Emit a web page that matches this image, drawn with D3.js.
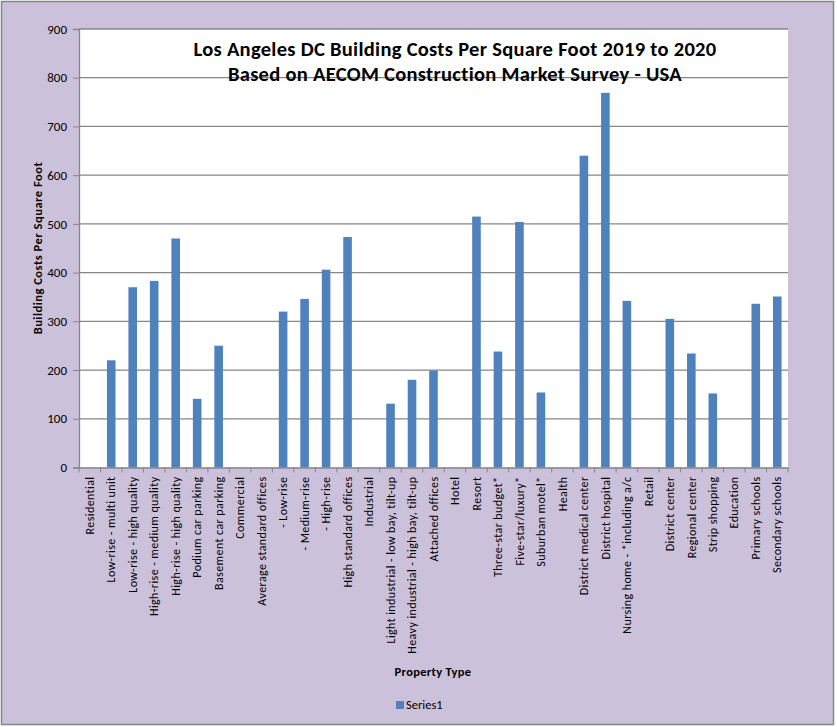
<!DOCTYPE html>
<html>
<head>
<meta charset="utf-8">
<script src="https://cdn.jsdelivr.net/npm/d3@7"></script>
<style>
  body { margin: 0; background: #fff; }
  svg text { font-family: Carlito, Lato, "Open Sans", sans-serif; fill: #000; }
</style>
</head>
<body>
<div id="chart"></div>
<script>
// categories along the x axis (empty headings have no value)
let categories = [
  'Residential', 'Low-rise - multi unit', 'Low-rise - high quality', 'High-rise - medium quality',
  'High-rise - high quality', 'Podium car parking', 'Basement car parking', 'Commercial',
  'Average standard offices', ' - Low-rise', ' - Medium-rise', ' - High-rise', 'High standard offices',
  'Industrial', 'Light industrial - low bay, tilt-up', 'Heavy industrial - high bay, tilt-up',
  'Attached offices', 'Hotel', 'Resort', 'Three-star budget*', 'Five-star/luxury*', 'Suburban motel*',
  'Health', 'District medical center', 'District hospital', 'Nursing home - *including a/c', 'Retail',
  'District center', 'Regional center', 'Strip shopping', 'Education', 'Primary schools', 'Secondary schools'
];

// cost per square foot
let series1 = [
  null, 220, 370, 383, 470, 141, 250, null,
  null, 320, 346, 406, 473,
  null, 131, 180,
  199, null, 515, 238, 504, 154,
  null, 640, 769, 342, null,
  305, 234, 152, null, 336, 351
];

let yTicks = [0, 100, 200, 300, 400, 500, 600, 700, 800, 900];

let svgWidth = 837;
let svgHeight = 727;

//plot area inside the lavender frame
let plot = { left: 79, top: 29, right: 788, bottom: 467.5 };

let svg = d3.select('#chart')
            .append('svg')
            .attr('width', svgWidth)
            .attr('height', svgHeight);

//outer chart frame
svg.append('rect')
   .attr('x', 1.5).attr('y', 1.5)
   .attr('width', 832).attr('height', 723)
   .attr('fill', '#ccc1da')
   .attr('stroke', '#868686')
   .attr('stroke-width', 1.5);

//white plot area
svg.append('rect')
   .attr('x', plot.left).attr('y', plot.top)
   .attr('width', plot.right - plot.left).attr('height', plot.bottom - plot.top)
   .attr('fill', '#fff');

let xScale = d3.scaleBand()
               .domain(categories)
               .range([plot.left, plot.right])
               .paddingInner(0.6)
               .paddingOuter(0.3);

let yScale = d3.scaleLinear()
               .domain([0, 900])
               .range([plot.bottom, plot.top]);

//gridlines
svg.append('g')
   .selectAll('line')
   .data(yTicks.slice(1))
   .enter()
   .append('line')
   .attr('x1', plot.left).attr('x2', plot.right)
   .attr('y1', d => yScale(d)).attr('y2', d => yScale(d))
   .attr('stroke', '#868686')
   .attr('stroke-width', 1.3);

//bars
svg.append('g')
   .selectAll('rect')
   .data(categories.map((c, i) => ({ cat: c, value: series1[i] })).filter(d => d.value != null))
   .enter()
   .append('rect')
   .attr('x', d => xScale(d.cat))
   .attr('y', d => yScale(d.value))
   .attr('width', xScale.bandwidth())
   .attr('height', d => plot.bottom - yScale(d.value))
   .attr('fill', '#4f81bd');

//y axis
let yAxis = d3.axisLeft(yScale).tickValues(yTicks).tickSize(6).tickPadding(6);
let yG = svg.append('g')
            .attr('transform', `translate(${plot.left},0)`)
            .call(yAxis);
yG.selectAll('text').style('font-size', '13px').attr('fill', '#000');

//x axis with ticks on band edges
let xAxisBand = d3.scaleBand().domain(categories).range([plot.left, plot.right]);
let xG = svg.append('g')
            .attr('transform', `translate(0,${plot.bottom})`)
            .call(d3.axisBottom(xAxisBand).tickSize(0).tickPadding(0));
xG.selectAll('.tick text')
  .attr('transform', 'rotate(-90)')
  .attr('text-anchor', 'end')
  .attr('x', -9)
  .attr('y', 0)
  .attr('dy', '0.35em')
  .style('font-size', '12px')
  .style('letter-spacing', '0.4px')
  .attr('fill', '#000');
xG.append('g')
  .selectAll('line')
  .data(d3.range(categories.length + 1))
  .enter()
  .append('line')
  .attr('x1', i => plot.left + i * xAxisBand.step())
  .attr('x2', i => plot.left + i * xAxisBand.step())
  .attr('y1', 0).attr('y2', 5)
  .attr('stroke', '#868686');

svg.selectAll('.domain').attr('stroke', '#868686').attr('stroke-width', 1.3);
svg.selectAll('.tick line').attr('stroke', '#868686');

//title
let title = svg.append('text')
               .attr('text-anchor', 'middle')
               .style('font-size', '20.5px')
               .style('letter-spacing', '0.3px')
               .style('font-weight', 'bold');
title.append('tspan').attr('x', 455).attr('y', 56).text('Los Angeles DC Building Costs Per Square Foot 2019 to 2020');
title.append('tspan').attr('x', 455).attr('y', 81).text('Based on AECOM Construction Market Survey - USA');

//axis titles
svg.append('text')
   .attr('transform', 'translate(42,248) rotate(-90)')
   .attr('text-anchor', 'middle')
   .style('font-size', '12.5px')
   .style('letter-spacing', '0.5px')
   .style('font-weight', 'bold')
   .text('Building Costs Per Square Foot');

svg.append('text')
   .attr('x', 433).attr('y', 676)
   .attr('text-anchor', 'middle')
   .style('font-size', '12.5px')
   .style('letter-spacing', '0.3px')
   .style('font-weight', 'bold')
   .text('Property Type');

//legend
svg.append('rect')
   .attr('x', 396).attr('y', 701)
   .attr('width', 8).attr('height', 8)
   .attr('fill', '#4f81bd');
svg.append('text')
   .attr('x', 406).attr('y', 709)
   .style('font-size', '12.5px')
   .text('Series1');
</script>
</body>
</html>
